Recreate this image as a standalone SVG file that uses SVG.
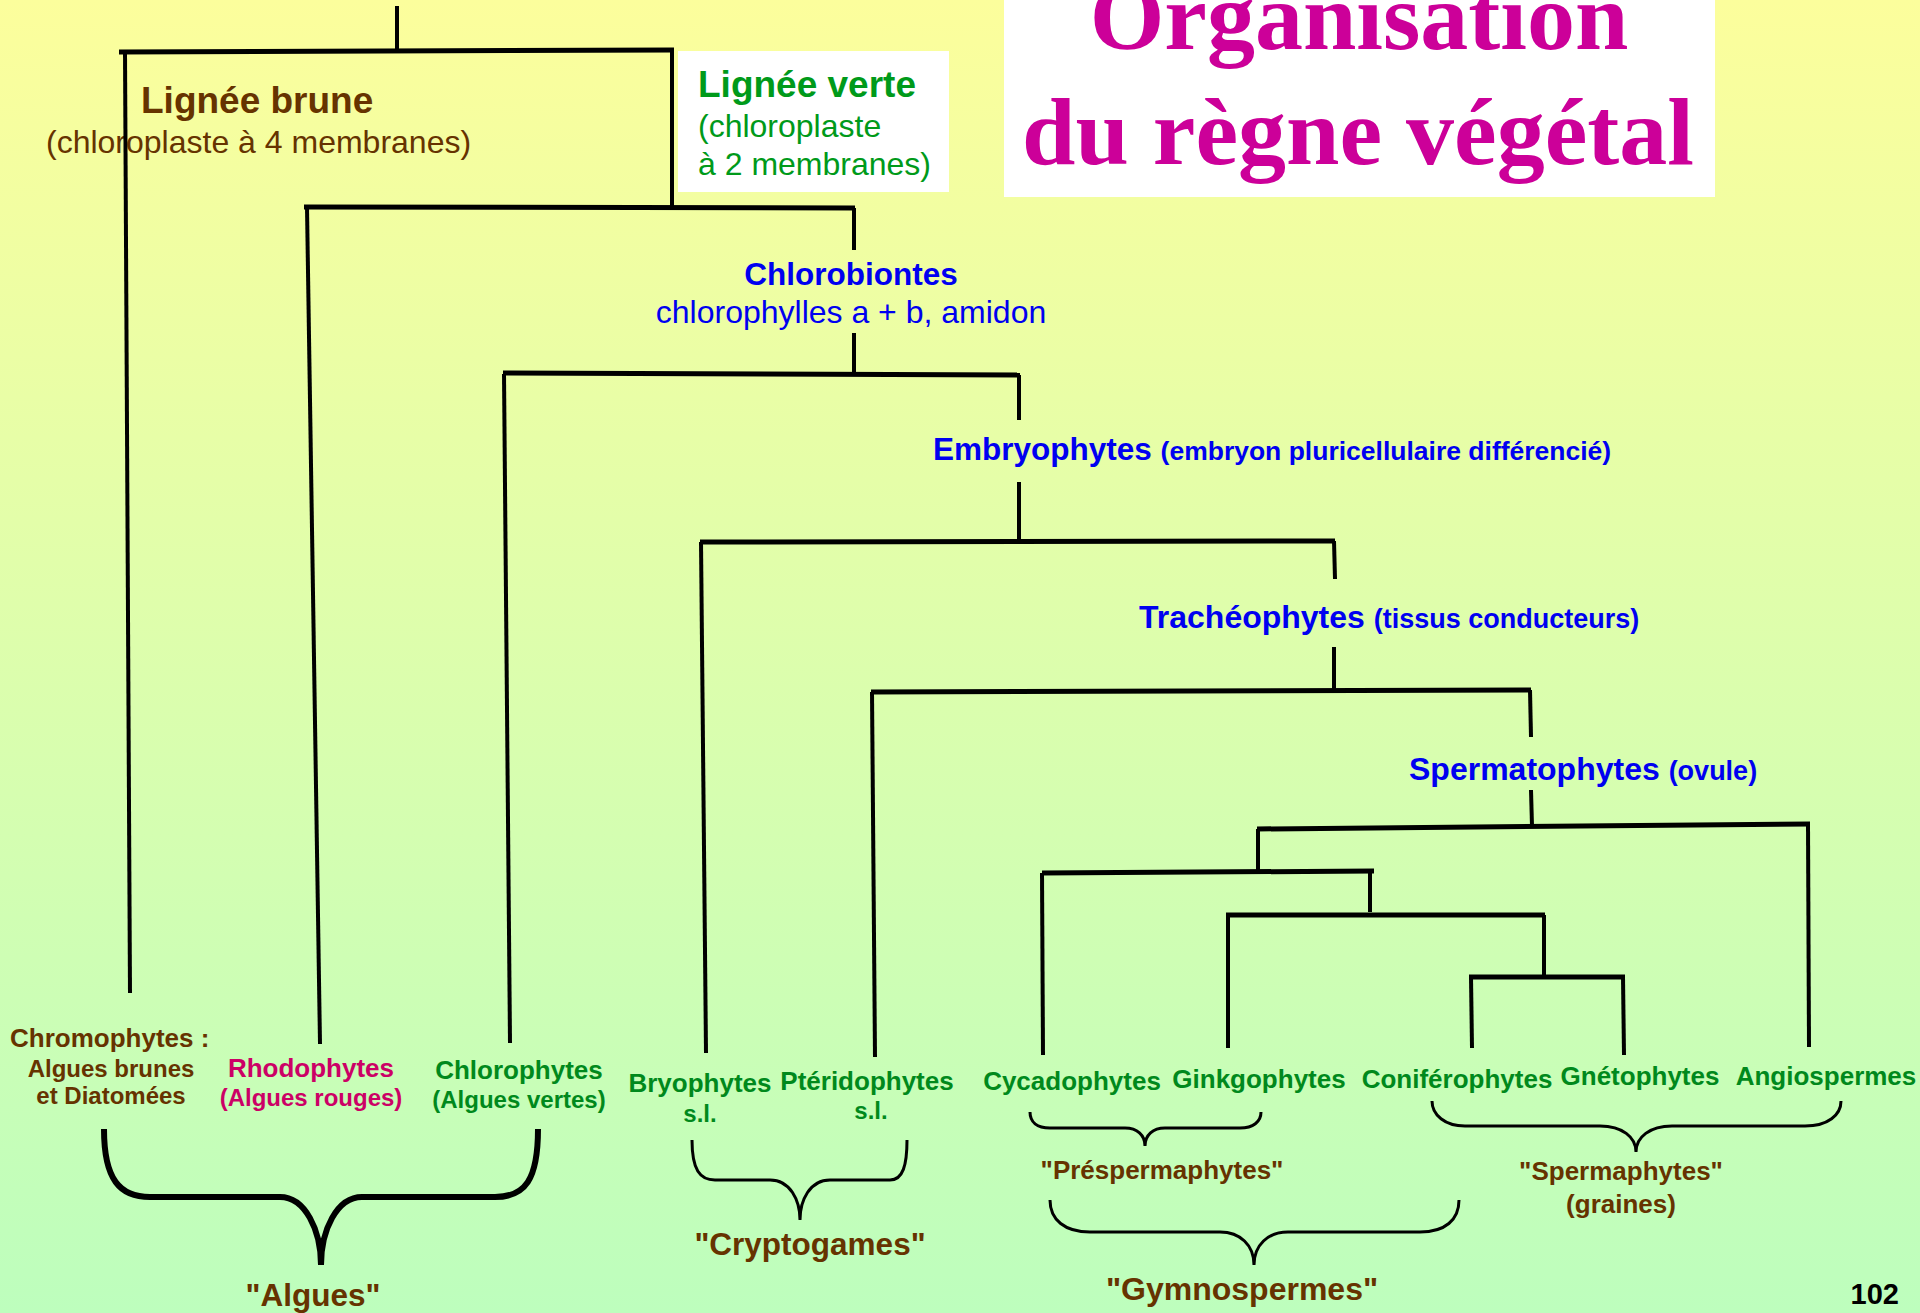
<svg xmlns="http://www.w3.org/2000/svg" width="1920" height="1313" viewBox="0 0 1920 1313">
<defs>
<linearGradient id="bg" x1="0" y1="0" x2="0" y2="1">
<stop offset="0" stop-color="#FCFE9C"/>
<stop offset="1" stop-color="#BDFEBD"/>
</linearGradient>
<style>
text{font-family:"Liberation Sans",Arial,sans-serif}
.b{font-weight:bold}
.brown{fill:#663300}
.green{fill:#00891C}
.lv{fill:#009A1A}
.blue{fill:#0000F0}
.rose{fill:#CC0066}
.title{font-family:"Liberation Serif","Times New Roman",serif;font-weight:bold;font-size:96px;fill:#CC0099}
.leaf{font-weight:bold;font-size:26px;text-anchor:middle}
.sub{font-weight:bold;font-size:24px;text-anchor:middle}
.grp{font-weight:bold;text-anchor:middle;fill:#663300}
.ln{stroke:#000;stroke-width:4;fill:none;stroke-linecap:butt}
.bar{stroke:#000;stroke-width:5;fill:none}
.br{stroke:#000;stroke-width:3;fill:none}
.brk{stroke:#000;stroke-width:6;fill:none}
</style>
</defs>
<rect x="0" y="0" width="1920" height="1313" fill="url(#bg)"/>

<g id="title">
<rect x="1004" y="0" width="711" height="197" fill="#FFFFFF"/>
<text class="title" x="1359" y="49" text-anchor="middle">Organisation</text>
<text class="title" x="1358" y="164" text-anchor="middle">du règne végétal</text>
</g>

<g id="lignee-brune">
<text class="b brown" x="141" y="113" font-size="37">Lignée brune</text>
<text class="brown" x="46" y="153" font-size="32">(chloroplaste à 4 membranes)</text>
</g>

<g id="lignee-verte">
<rect x="678" y="51" width="271" height="141" fill="#FFFFFF"/>
<text class="b lv" x="698" y="97" font-size="37">Lignée verte</text>
<text class="lv" x="698" y="137" font-size="32">(chloroplaste</text>
<text class="lv" x="698" y="175" font-size="32">à 2 membranes)</text>
</g>

<g id="chlorobiontes">
<text class="b blue" x="851" y="285" font-size="31.5" text-anchor="middle">Chlorobiontes</text>
<text class="blue" x="851" y="323" font-size="32" text-anchor="middle">chlorophylles a + b, amidon</text>
</g>

<g id="embryophytes">
<text class="b blue" x="933" y="460" font-size="31.5">Embryophytes <tspan font-size="26.5">(embryon pluricellulaire différencié)</tspan></text>
</g>

<g id="tracheophytes">
<text class="b blue" x="1139" y="628" font-size="32">Trachéophytes <tspan font-size="27">(tissus conducteurs)</tspan></text>
</g>

<g id="spermatophytes">
<text class="b blue" x="1409" y="780" font-size="32">Spermatophytes <tspan font-size="27">(ovule)</tspan></text>
</g>

<g id="chromophytes">
<text class="b brown" x="10" y="1047" font-size="26">Chromophytes :</text>
<text class="sub brown" x="111" y="1077">Algues brunes</text>
<text class="sub brown" x="111" y="1104">et Diatomées</text>
</g>

<g id="rhodophytes">
<text class="leaf rose" x="311" y="1077">Rhodophytes</text>
<text class="sub rose" x="311" y="1106">(Algues rouges)</text>
</g>

<g id="chlorophytes">
<text class="leaf green" x="519" y="1079">Chlorophytes</text>
<text class="sub green" x="519" y="1108">(Algues vertes)</text>
</g>

<g id="bryophytes">
<text class="leaf green" x="700" y="1092">Bryophytes</text>
<text class="sub green" x="700" y="1122">s.l.</text>
</g>

<g id="pteridophytes">
<text class="leaf green" x="867" y="1090">Ptéridophytes</text>
<text class="sub green" x="871" y="1119">s.l.</text>
</g>

<g id="cycadophytes">
<text class="leaf green" x="1072" y="1090">Cycadophytes</text>
</g>
<g id="ginkgophytes">
<text class="leaf green" x="1259" y="1088">Ginkgophytes</text>
</g>
<g id="coniferophytes">
<text class="leaf green" x="1457" y="1088">Coniférophytes</text>
</g>
<g id="gnetophytes">
<text class="leaf green" x="1640" y="1085">Gnétophytes</text>
</g>
<g id="angiospermes">
<text class="leaf green" x="1826" y="1085">Angiospermes</text>
</g>

<g id="algues">
<path class="brk" d="M104,1129 C104,1180 120,1197 150,1197 L280,1197 C305,1197 321,1230 321,1265 C321,1230 337,1197 362,1197 L495,1197 C525,1197 538,1180 538,1129"/>
<text class="grp" x="313" y="1306" font-size="31.5">"Algues"</text>
</g>

<g id="cryptogames">
<path class="br" d="M692,1140 C692,1170 700,1180 715,1180 L770,1180 C790,1180 800,1200 800,1220 C800,1200 810,1180 830,1180 L890,1180 C903,1180 907,1165 907,1140"/>
<text class="grp" x="810" y="1255" font-size="31.5">"Cryptogames"</text>
</g>

<g id="prespermaphytes">
<path class="br" d="M1030,1112 C1030,1122 1037,1128 1050,1128 L1125,1128 C1137,1128 1145,1135 1145,1146 C1145,1135 1153,1128 1165,1128 L1240,1128 C1253,1128 1261,1122 1261,1112"/>
<text class="grp" x="1162" y="1179" font-size="26">"Préspermaphytes"</text>
</g>

<g id="gymnospermes">
<path class="br" d="M1050,1200 C1050,1220 1065,1232 1090,1232 L1220,1232 C1240,1232 1254,1245 1254,1265 C1254,1245 1268,1232 1288,1232 L1420,1232 C1445,1232 1459,1220 1459,1200"/>
<text class="grp" x="1242" y="1300" font-size="32">"Gymnospermes"</text>
</g>

<g id="spermaphytes">
<path class="br" d="M1432,1101 C1432,1115 1445,1126 1465,1126 L1600,1126 C1622,1126 1636,1137 1636,1152 C1636,1137 1650,1126 1672,1126 L1805,1126 C1828,1126 1841,1115 1841,1101"/>
<text class="grp" x="1621" y="1180" font-size="26">"Spermaphytes"</text>
<text class="grp" x="1621" y="1213" font-size="26">(graines)</text>
</g>

<g id="page-number">
<text class="b" x="1899" y="1304" font-size="29" text-anchor="end" fill="#000">102</text>
</g>

<g id="connectors">
<line class="ln" x1="397" y1="6" x2="397" y2="52"/>
<line class="bar" x1="119" y1="52" x2="674" y2="50"/>
<line class="ln" x1="125" y1="52" x2="130" y2="993"/>
<line class="ln" x1="672" y1="50" x2="672" y2="207"/>
<line class="bar" x1="304" y1="207" x2="855" y2="208"/>
<line class="ln" x1="307" y1="207" x2="320" y2="1044"/>
<line class="ln" x1="854" y1="208" x2="854" y2="250"/>
<line class="ln" x1="854" y1="333" x2="854" y2="374"/>
<line class="bar" x1="503" y1="373" x2="1020" y2="375"/>
<line class="ln" x1="504" y1="374" x2="510" y2="1043"/>
<line class="ln" x1="1019" y1="375" x2="1019" y2="420"/>
<line class="ln" x1="1019" y1="482" x2="1019" y2="541"/>
<line class="bar" x1="700" y1="542" x2="1335" y2="541"/>
<line class="ln" x1="701" y1="542" x2="706" y2="1053"/>
<line class="ln" x1="1334" y1="541" x2="1335" y2="579"/>
<line class="ln" x1="1334" y1="647" x2="1334" y2="691"/>
<line class="bar" x1="871" y1="692" x2="1531" y2="690"/>
<line class="ln" x1="872" y1="692" x2="875" y2="1057"/>
<line class="ln" x1="1530" y1="690" x2="1531" y2="737"/>
<line class="ln" x1="1531" y1="790" x2="1532" y2="826"/>
<line class="bar" x1="1257" y1="829" x2="1810" y2="824"/>
<line class="ln" x1="1808" y1="824" x2="1809" y2="1047"/>
<line class="ln" x1="1258" y1="829" x2="1258" y2="872"/>
<line class="bar" x1="1042" y1="873" x2="1374" y2="871"/>
<line class="ln" x1="1042" y1="873" x2="1043" y2="1055"/>
<line class="ln" x1="1370" y1="872" x2="1370" y2="912"/>
<line class="bar" x1="1226" y1="915" x2="1545" y2="915"/>
<line class="ln" x1="1228" y1="915" x2="1228" y2="1048"/>
<line class="ln" x1="1544" y1="915" x2="1544" y2="977"/>
<line class="bar" x1="1469" y1="977" x2="1625" y2="977"/>
<line class="ln" x1="1471" y1="977" x2="1472" y2="1048"/>
<line class="ln" x1="1623" y1="977" x2="1624" y2="1055"/>
</g>
</svg>
